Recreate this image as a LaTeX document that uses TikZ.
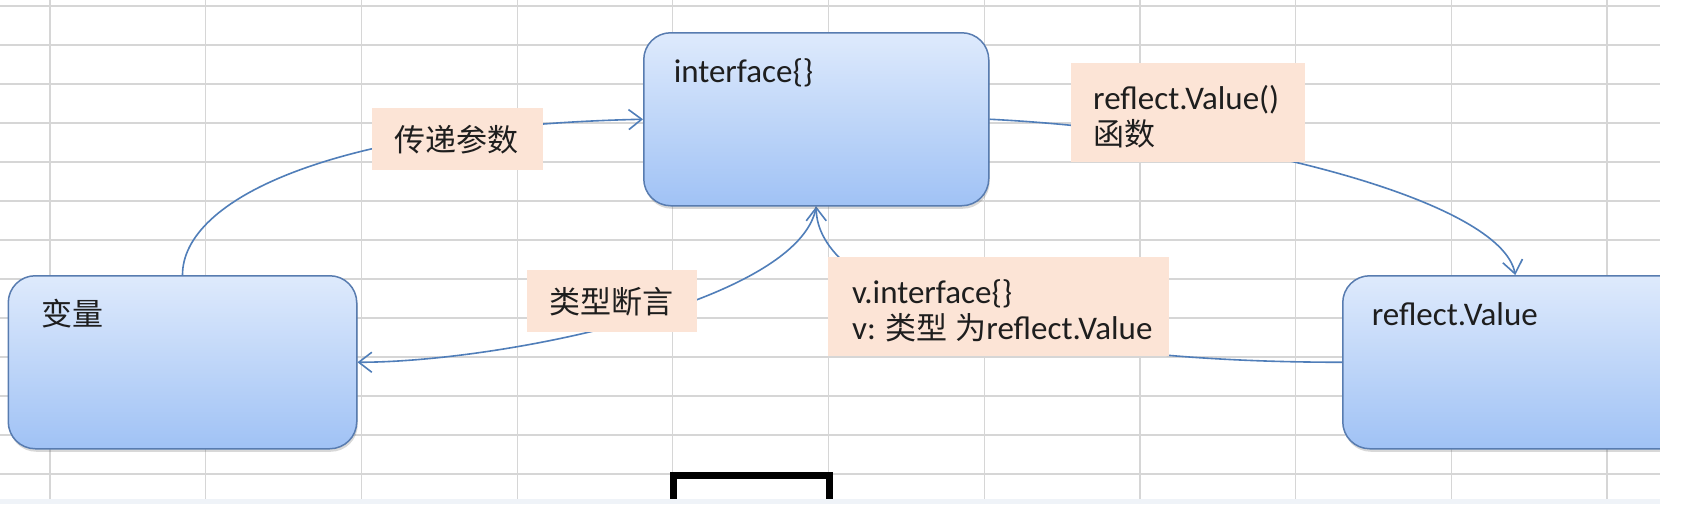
\documentclass[tikz,border=0pt]{standalone}
\usepackage{fontspec}
\setmainfont{Carlito}
\newfontfamily\cjk{Noto Sans CJK SC}[Scale=0.94]
\usetikzlibrary{arrows.meta,shadows}
\definecolor{gridc}{RGB}{214,214,214}
\definecolor{conncol}{RGB}{80,126,185}
\definecolor{boxtop}{RGB}{222,234,252}
\definecolor{boxbot}{RGB}{160,194,245}
\definecolor{boxdraw}{RGB}{88,124,176}
\definecolor{peach}{RGB}{252,228,214}
\definecolor{txt}{RGB}{30,30,30}
\definecolor{band}{RGB}{239,243,248}
\newcommand\tb[2]{\parbox[t]{#1}{#2}}
\pgfdeclarelayer{gridl}
\pgfdeclarelayer{connl}
\pgfdeclarelayer{topl}
\pgfsetlayers{gridl,connl,main,topl}
\begin{document}
\begin{tikzpicture}[x=1pt,y=-1pt,
  every node/.style={font=\fontsize{33pt}{36pt}\selectfont, text=txt},
  shapebox/.style={rectangle, rounded corners=27pt, draw=boxdraw, line width=1.5pt,
    top color=boxtop, bottom color=boxbot, anchor=north west, inner ysep=0pt,
    text height=50pt, text depth=123pt,
    drop shadow={shadow xshift=1pt, shadow yshift=-3pt, opacity=0.25, fill=black!60}},
  lab/.style={fill=peach, anchor=north west, inner ysep=0pt},
  conn/.style={draw=conncol, line width=1.6pt},
  arr/.style={-{Straight Barb[length=13pt,width=20pt]}}]
\useasboundingbox (0,0) rectangle (1692,504);
\begin{pgfonlayer}{gridl}
  \fill[white] (0,0) rectangle (1692,504);
  \foreach \j in {0,...,12} \draw[gridc, line width=1.2pt] (0,6+39*\j) -- (1660,6+39*\j);
  \foreach \k in {0,...,10} \draw[gridc, line width=1.2pt] (50+155.7*\k,0) -- (50+155.7*\k,499);
\end{pgfonlayer}
% boxes
\node[shapebox, inner xsep=33pt] (v) at (7.5,275) {\tb{282.5pt}{{\cjk 变量}}};
\node[shapebox, inner xsep=30pt] (i) at (643,32) {\tb{285pt}{interface\{\}}};
\node[shapebox, inner xsep=29pt] (r) at (1342,275) {\tb{287pt}{reflect.Value}};
% labels
\node[lab, inner xsep=22pt, text height=43pt, text depth=19pt] (l1) at (372,108)
  {\tb{127pt}{\mbox{\cjk 传递参数}}};
\node[lab, inner xsep=22pt, text height=46pt, text depth=53pt] (l2) at (1071,63)
  {\tb{190pt}{\mbox{reflect.Value()}\\\mbox{\cjk 函数}}};
\node[lab, inner xsep=22pt, text height=43pt, text depth=19pt] (l3) at (527,270)
  {\tb{126pt}{\mbox{\cjk 类型断言}}};
\node[lab, inner xsep=24pt, text height=46pt, text depth=53pt] (l4) at (828,257)
  {\tb{293pt}{\mbox{v.interface\{\}}\\\mbox{v: {\cjk 类型} {\cjk 为}reflect.Value}}};
% connectors
\begin{pgfonlayer}{connl}
  \draw[conn, arr] (v.north) .. controls +(0,-75) and +(-313,7) .. (i.west);
  \draw[conn, arr] (i.east) .. controls +(242,12) and +(-14,-75) .. (r.north);
  \draw[conn, arr] (r.west) .. controls +(-342,0) and +(0,85) .. (i.south);
  \draw[conn, arr] (i.south) .. controls +(-15,95) and +(144,0) .. (v.east);
\end{pgfonlayer}
% bracket and bottom band
\draw[black, line width=7pt] (673.5,500) -- (673.5,475) -- (829,475) -- (829,500);
\begin{pgfonlayer}{topl}
  \fill[band] (0,499) rectangle (1660,504);
  \fill[white] (1660,0) rectangle (1692,504);
\end{pgfonlayer}
\end{tikzpicture}
\end{document}
